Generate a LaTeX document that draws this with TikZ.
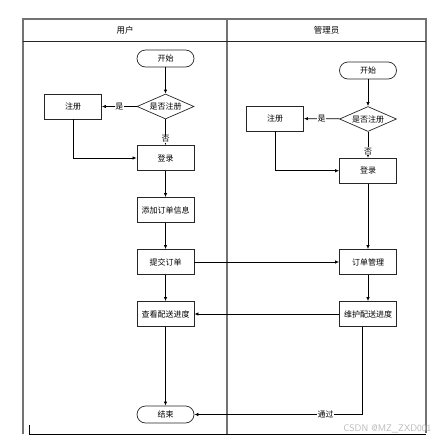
\documentclass[tikz,border=0pt]{standalone}
\usepackage{fontspec}
\newfontfamily\cjk{Noto Sans CJK SC}
\usetikzlibrary{shapes.geometric,arrows.meta}
\begin{document}
\begin{tikzpicture}[x=1pt,y=-1pt,
  font=\cjk\fontsize{8}{9.5}\selectfont,
  box/.style={draw=black!85, line width=0.9pt, minimum width=57pt, minimum height=25pt, inner sep=0pt},
  term/.style={draw=black!85, line width=0.7pt, rounded corners=8.5pt, minimum width=57pt, minimum height=17pt, inner sep=0pt},
  dia/.style={draw=black!85, line width=0.7pt, diamond, aspect=2.3, minimum width=57pt, minimum height=25pt, inner sep=0pt},
  frame/.style={draw=black!55, line width=1.3pt},
  conn/.style={draw=black, line width=0.7pt},
  arr/.style={conn, -{Latex[length=4pt,width=3.5pt]}},
  lbl/.style={fill=white, inner sep=0.5pt}
]
\useasboundingbox (0,0) rectangle (437,442);
% frame
\draw[frame] (23,434) -- (23,19) -- (426,19) -- (426,433);
\draw[frame] (227,19) -- (227,434);
\draw[draw=black!85, line width=0.9pt] (23,41) -- (426,41);
\draw[draw=black, line width=0.8pt] (29,425) -- (29,434) -- (426,434);
\node (h1) at (125,30) {\fontsize{8.5}{10}\selectfont 用户};
\node (h2) at (326.5,30) {\fontsize{8.5}{10}\selectfont 管理员};
% user lane
\node[term] (us) at (165.5,58.5) {开始};
\node[dia] (ud) at (165.5,106.5) {是否注册};
\node[box] (ur) at (73,106.5) {注册};
\node[box] (ul) at (165.5,158) {登录};
\node[box] (ua) at (165.5,210) {添加订单信息};
\node[box] (uc) at (165.5,262) {提交订单};
\node[box] (uv) at (165.5,314) {查看配送进度};
\node[term] (ue) at (165.5,414.5) {结束};
% admin lane
\node[term] (as) at (368,70.5) {开始};
\node[dia] (ad) at (368,119) {是否注册};
\node[box] (ar) at (275,118.5) {注册};
\node[box] (al) at (368,170.7) {登录};
\node[box] (am) at (368,262) {订单管理};
\node[box] (ap) at (368,314) {维护配送进度};
\coordinate (apb) at (362.7,326.5);
\coordinate (apc) at (362.7,414.5);
% user connectors
\draw[arr] (us) -- (ud);
\draw[arr] (ud) -- node[lbl] {是} (ur);
\draw[arr] (ud) -- node[lbl, pos=0.75] {否} (ul);
\draw[arr] (ur) |- (ul);
\draw[arr] (ul) -- (ua);
\draw[arr] (ua) -- (uc);
\draw[arr] (uc) -- (uv);
\draw[arr] (uv) -- (ue);
% admin connectors
\draw[arr] (as) -- (ad);
\draw[arr] (ad) -- node[lbl] {是} (ar);
\draw[arr] (ad) -- node[lbl, pos=0.75] {否} (al);
\draw[arr] (ar) |- (al);
\draw[arr] (al) -- (am);
\draw[arr] (am) -- (ap);
% cross-lane
\draw[arr] (uc) -- (am);
\draw[arr] (ap) -- (uv);
\draw[conn] (apb) -- (apc);
\draw[arr] (apc) -- node[lbl, pos=0.22] {通过} (ue);
% watermark
\node[text=black!28, font=\sffamily\fontsize{9.5}{11}\selectfont, anchor=east] (wm) at (435,429) {CSDN @MZ\_ZXD001};
\end{tikzpicture}
\end{document}
